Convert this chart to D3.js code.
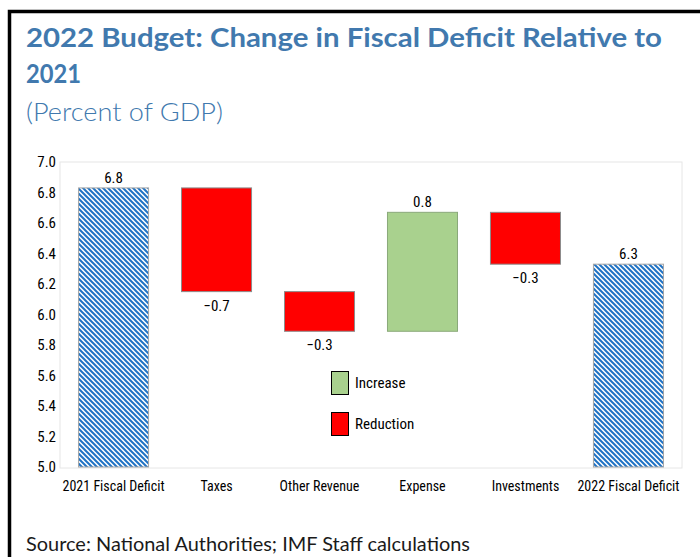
<!DOCTYPE html>
<html><head><meta charset="utf-8">
<script src="https://cdn.jsdelivr.net/npm/d3@7"></script>
<style>body{margin:0;background:#fff}svg{display:block}</style>
</head><body>
<svg id="c" width="700" height="557"></svg>
<script>
const categories = ["2021 Fiscal Deficit","Taxes","Other Revenue","Expense","Investments","2022 Fiscal Deficit"];
const changes = [6.83, -0.68, -0.26, 0.78, -0.34, 6.33];
const kinds = ["total","reduction","reduction","increase","reduction","total"];
const yTicks = [5.0,5.2,5.4,5.6,5.8,6.0,6.2,6.4,6.6,6.8,7.0];
const legendItems = ["Increase","Reduction"];

(function(){
const svg = d3.select("#c");
const blue = "#4179ae";
const narrow = "'Liberation Sans Narrow','Arial Narrow','Roboto Condensed',sans-serif";

// frame
svg.append("path").attr("d","M9.5,560 V11.5 H703").attr("fill","none").attr("stroke","#000").attr("stroke-width",3.5);

// titles
svg.append("text").attr("x",26).attr("y",47).attr("font-family","Lato,'Open Sans',sans-serif").attr("font-weight",700)
  .attr("font-size",26).attr("fill",blue).attr("textLength",636).attr("lengthAdjust","spacingAndGlyphs")
  .text("2022 Budget: Change in Fiscal Deficit Relative to");
svg.append("text").attr("x",26).attr("y",83).attr("font-family","Lato,'Open Sans',sans-serif").attr("font-weight",700)
  .attr("font-size",26).attr("fill",blue).attr("textLength",55).attr("lengthAdjust","spacingAndGlyphs").text("2021");
svg.append("text").attr("x",26).attr("y",121).attr("font-family","Lato,'Open Sans',sans-serif").attr("font-weight",300)
  .attr("font-size",25).attr("fill",blue).attr("textLength",197).attr("lengthAdjust","spacingAndGlyphs").text("(Percent of GDP)");

// scales
const pl = 60, pr = 682, pt = 162, pb = 467;
const x = d3.scaleBand().domain(categories).range([pl,pr]).paddingInner(0.32).paddingOuter(0.18);
const y = d3.scaleLinear().domain([5,7]).range([pb,pt]);

// pattern
const P = 5;
const defs = svg.append("defs");
const pat = defs.append("pattern").attr("id","hatch").attr("patternUnits","userSpaceOnUse")
  .attr("width",P).attr("height",P);
pat.append("rect").attr("width",P).attr("height",P).attr("fill","#fff");
pat.append("path").attr("d",`M0,0 L${P},${P} M-1,${P-1} L1,${P+1} M${P-1},-1 L${P+1},1`).attr("stroke","#1f72c4").attr("stroke-width",2.0);

// plot border
svg.append("rect").attr("x",pl).attr("y",pt).attr("width",pr-pl).attr("height",pb-pt+1)
  .attr("fill","none").attr("stroke","#e6e6e6").attr("stroke-width",1);

// compute bars
let run = 0;
const bars = categories.map((c,i)=>{
  let a,b;
  if (kinds[i]==="total"){ a=5; b=changes[i]; run=changes[i]; }
  else { a=run; b=run+changes[i]; run=b; }
  return {c, a, b, kind:kinds[i], v:changes[i]};
});
const fillOf = k => k==="total" ? "url(#hatch)" : (k==="increase" ? "#a9d18e" : "#ff0000");

svg.append("g").selectAll("rect").data(bars).join("rect")
  .attr("x",d=>x(d.c)).attr("width",x.bandwidth())
  .attr("y",d=>y(Math.max(d.a,d.b))).attr("height",d=>Math.abs(y(d.a)-y(d.b)))
  .attr("fill",d=>fillOf(d.kind)).attr("stroke",d=>d.kind==="total"?"#a6a6a6":(d.kind==="increase"?"#8aa97a":"#8c8c8c")).attr("stroke-width",1);

const fmt = d3.format(".1f");
svg.append("g").selectAll("text").data(bars).join("text")
  .attr("x",d=>x(d.c)+x.bandwidth()/2)
  .attr("y",d=> d.kind==="reduction" ? y(Math.min(d.a,d.b))+19 : y(Math.max(d.a,d.b))-5)
  .attr("text-anchor","middle").attr("font-family",narrow).attr("font-size",15).attr("fill","#000")
  .text(d=>fmt(d.v));

// y axis
const ya = svg.append("g").attr("transform",`translate(${pl},0)`)
  .call(d3.axisLeft(y).tickValues(yTicks).tickFormat(d3.format(".1f")).tickSize(0).tickPadding(4));
ya.select(".domain").remove();
ya.selectAll("text").attr("font-family",narrow).attr("font-size",15).attr("fill","#000");

// x axis
const xa = svg.append("g").attr("transform",`translate(0,${pb})`)
  .call(d3.axisBottom(x).tickSize(0).tickPadding(14));
xa.select(".domain").remove();
xa.selectAll("text").attr("font-family",narrow).attr("font-size",14).attr("fill","#000");

// legend
const lg = svg.append("g").attr("transform","translate(331,371)");
legendItems.forEach((t,i)=>{
  const g = lg.append("g").attr("transform",`translate(0,${i*41})`);
  g.append("rect").attr("x",0.5).attr("y",0.5).attr("width",17).attr("height",23)
    .attr("fill", i===0?"#a9d18e":"#ff0000").attr("stroke","#000").attr("stroke-width",1);
  g.append("text").attr("x",24).attr("y",17).attr("font-family",narrow).attr("font-size",15).attr("fill","#000").text(t);
});

// source
svg.append("text").attr("x",26).attr("y",551).attr("font-family","Lato,'Open Sans',sans-serif").attr("font-size",20)
  .attr("fill","#1a1a1a").attr("textLength",444).attr("lengthAdjust","spacingAndGlyphs")
  .text("Source: National Authorities; IMF Staff calculations");
})();
</script>
</body></html>
